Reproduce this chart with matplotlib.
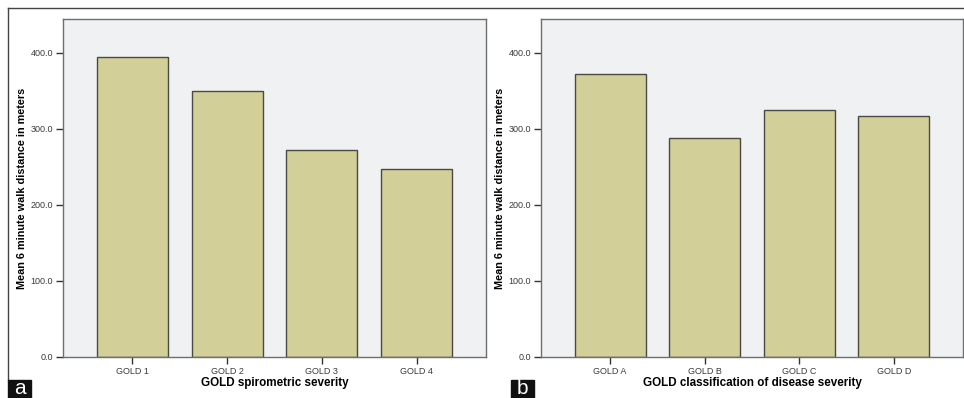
import matplotlib
matplotlib.use("Agg")
import matplotlib.pyplot as plt
from matplotlib.lines import Line2D

# Mean 6-minute walk distance (m) by GOLD group
spiro_labels = ["GOLD 1", "GOLD 2", "GOLD 3", "GOLD 4"]
spiro_means = [395, 350, 272, 247]

class_labels = ["GOLD A", "GOLD B", "GOLD C", "GOLD D"]
class_means = [372, 288, 325, 317]

y_ticks = [0, 100, 200, 300, 400]
y_label = "Mean 6 minute walk distance in meters"
x_label_a = "GOLD spirometric severity"
x_label_b = "GOLD classification of disease severity"

plt.rcParams["font.family"] = ["Liberation Sans", "DejaVu Sans"]

W, H = 964, 398
fig = plt.figure(figsize=(W / 100, H / 100), dpi=100)
fig.patch.set_facecolor("white")

BAR = "#d2cf98"
EDGE = "#4a4a44"
BG = "#f0f1f2"
SPINE = "#6e6e6e"


def px(x0, y0, x1, y1):
    return [x0 / W, 1 - y1 / H, (x1 - x0) / W, (y1 - y0) / H]


def panel(rect, labels, values, xlabel):
    ax = fig.add_axes(rect)
    ax.set_facecolor(BG)
    x = range(len(labels))
    ax.bar(x, values, width=0.75, color=BAR, edgecolor=EDGE, linewidth=1.0, zorder=2)
    ax.set_xlim(-0.73, len(labels) - 1 + 0.73)
    ax.set_ylim(0, 444.7)
    ax.set_xticks(list(x))
    ax.set_xticklabels(labels)
    ax.set_yticks(y_ticks)
    ax.set_yticklabels([f"{v:.1f}" for v in y_ticks])
    ax.tick_params(axis="both", direction="out", length=5, width=1.0,
                   color="#333333", labelsize=6.5, labelcolor="#3a3a3a", pad=2)
    for s in ax.spines.values():
        s.set_color(SPINE)
        s.set_linewidth(1.0)
    ax.set_ylabel(y_label, fontsize=7.8, fontweight="bold", va="center")
    ax.yaxis.set_label_coords(-0.097, 0.5)
    ax.set_xlabel(xlabel, fontsize=8.4, fontweight="bold", va="center")
    ax.xaxis.set_label_coords(0.5, -0.077)
    return ax


ax_a = panel(px(63, 19, 486, 357), spiro_labels, spiro_means, x_label_a)
ax_b = panel(px(541, 19, 963, 357), class_labels, class_means, x_label_b)

# outer frame lines (top and left)
fig.add_artist(Line2D([8 / W, 1], [1 - 7.5 / H, 1 - 7.5 / H], color="#444444", lw=1.0))
fig.add_artist(Line2D([8 / W, 8 / W], [1 - 7.5 / H, 1 - 380 / H], color="#444444", lw=1.0))

# panel letters on black boxes
for letter, x0, x1 in (("a", 8, 31), ("b", 511, 534)):
    fig.patches.append(plt.Rectangle((x0 / W, 0), (x1 - x0) / W, 18.5 / H,
                                     transform=fig.transFigure, color="#111111",
                                     zorder=5))
    fig.text((x0 + x1) / 2 / W, 9 / H, letter, color="white", fontsize=15,
             ha="center", va="center", zorder=6)

fig.savefig("out.png", dpi=100)
